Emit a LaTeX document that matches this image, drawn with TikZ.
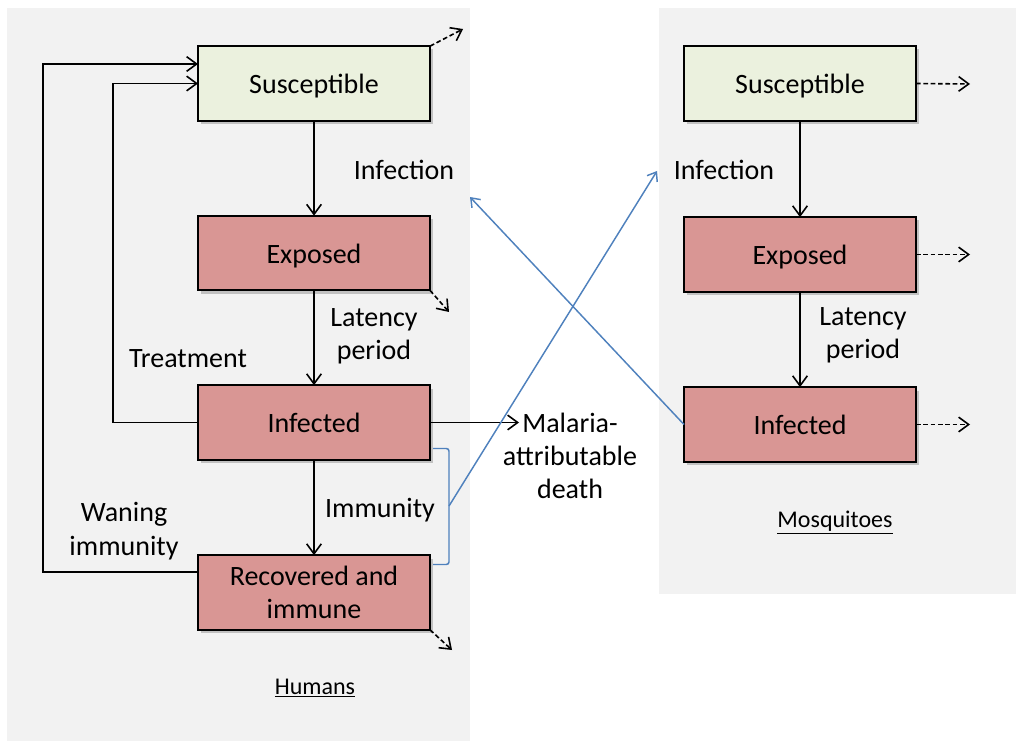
\documentclass[tikz,border=0pt]{standalone}
\usepackage{fontspec}
\setmainfont{Carlito}
\usetikzlibrary{arrows.meta,shadows,calc}
\definecolor{panelgray}{HTML}{F2F2F2}
\definecolor{boxgreen}{HTML}{EBF1DE}
\definecolor{boxred}{HTML}{D99694}
\definecolor{linkblue}{HTML}{4F81BD}
\newcommand{\lowtxt}[1]{\raisebox{-2pt}[\height][\depth]{#1}}
\tikzset{
  compbox/.style={draw=black, line width=1.4pt, minimum width=174pt, minimum height=56pt,
    inner sep=0pt, outer sep=0pt, align=center, font=\fontsize{21}{25}\selectfont,
    drop shadow={shadow xshift=2.5pt, shadow yshift=-2.5pt, opacity=0.35, fill=black!60}},
  greenbox/.style={compbox, fill=boxgreen},
  redbox/.style={compbox, fill=boxred},
  lbl/.style={align=center, font=\fontsize{21}{25}\selectfont, inner sep=0pt},
  grplbl/.style={font=\fontsize{18}{22}\selectfont, inner sep=0pt},
  flow/.style={draw=black, line width=1.2pt, -{Straight Barb[length=7.5pt,width=11pt,line width=1.2pt]}},
  leave/.style={flow, dash pattern=on 3.5pt off 2pt},
  bluelink/.style={draw=linkblue, line width=1.1pt},
  bluearr/.style={bluelink, -{Straight Barb[length=6pt,width=9pt,line width=1.1pt]}},
}
\begin{document}
\begin{tikzpicture}[x=0.75pt,y=-0.75pt]
\useasboundingbox (0,0) rectangle (1016,741);
% panels
\fill[panelgray] (7,8) rectangle (470,741);
\fill[panelgray] (659,8) rectangle (1016,594);

% human compartments
\node[greenbox] (hS) at (314,83.5) {\lowtxt{Susceptible}};
\node[redbox] (hE) at (314,253) {\lowtxt{Exposed}};
\node[redbox] (hI) at (314,422.5) {Infected};
\node[redbox] (hR) at (314,592.5) {Recovered and\\immune};

% mosquito compartments
\node[greenbox] (mS) at (800,83.5) {\lowtxt{Susceptible}};
\node[redbox] (mE) at (800,254.5) {\lowtxt{Exposed}};
\node[redbox] (mI) at (800,424.5) {Infected};

% labels
\node[lbl] (hInf) at (404,170) {Infection};
\node[lbl] (hLat) at (374,336) {Latency\\period};
\node[lbl] (treat) at (188,359) {Treatment};
\node[lbl] (immu) at (380,510) {Immunity};
\node[lbl] (wane) at (124,531) {Waning\\immunity};
\node[lbl] (death) at (570,456) {Malaria-\\attributable\\death};
\node[lbl] (mInf) at (724,170) {Infection};
\node[lbl] (mLat) at (863,335) {Latency\\period};
\node[grplbl] (humans) at (315,688) {\underline{Humans}};
\node[grplbl] (mosq) at (835,523) {\underline{Mosquitoes}};

% free ends
\coordinate (dtip) at (519,423);
\coordinate (hSout) at (463,29);
\coordinate (hEout) at (449,312);
\coordinate (hRout) at (452,650);
\coordinate (mSout) at (970,84);
\coordinate (mEout) at (970,254.5);
\coordinate (mIout) at (970,424.5);
\coordinate (hInfTip) at (470,197);
\coordinate (mInfTip) at (657,171);

% human flows
\draw[flow] (hS) -- (hE);
\draw[flow] (hE) -- (hI);
\draw[flow] (hI) -- (hR);
\draw[flow] (hI.east) -- (hI.east -| dtip);
\draw[flow] (hI.west) -- ++(-85,0) |- (hS.west);
\draw[flow] ($(hR.west)+(0,-20.5)$) -- ++(-155,0) |- ($(hS.west)+(0,-19.5)$);

% mosquito flows
\draw[flow] (mS) -- (mE);
\draw[flow] (mE) -- (mI);

% deaths / leaving
\draw[leave] (hS.north east) -- (hSout);
\draw[leave] (hE.south east) -- (hEout);
\draw[leave] (hR.south east) -- (hRout);
\draw[leave] (mS.east) -- (mSout);
\draw[leave] (mE.east) -- (mEout);
\draw[leave] (mI.east) -- (mIout);

% cross infection
\coordinate (brk) at ($(hI.east)+(19,83.5)$);
\draw[bluelink, rounded corners=2pt] ($(hI.east)+(3,26)$) -- ++(16,0) |- ($(hR.east)+(3,-28)$);
\draw[bluearr] (brk) -- (mInfTip);
\draw[bluearr] (mI.west) -- (hInfTip);
\end{tikzpicture}
\end{document}
